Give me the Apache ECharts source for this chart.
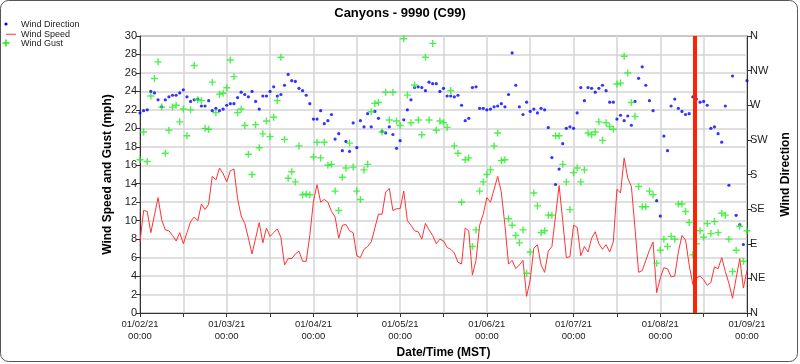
<!DOCTYPE html>
<html>
<head>
<meta charset="utf-8">
<script src="https://cdn.jsdelivr.net/npm/echarts@6/dist/echarts.min.js"></script>
<style>
html,body{margin:0;padding:0;background:#fff;}
#chart{width:800px;height:364px;}
</style>
</head>
<body>
<div id="chart"></div>
<script>
// Hourly observations starting 01/02/21 00:00 (hour index 0..168)
const xTickLabels = ['01/02/21\n00:00','01/03/21\n00:00','01/04/21\n00:00','01/05/21\n00:00','01/06/21\n00:00','01/07/21\n00:00','01/08/21\n00:00','01/09/21\n00:00'];
const dirLabels = ['N','NE','E','SE','S','SW','W','NW','N'];
const nowHour = 153.5;

const windSpeed = [
 7.7,11.1,11.0,8.7,10.6,12.5,10.1,9.0,8.9,8.4,7.8,8.7,7.5,8.7,9.9,10.4,10.0,11.8,11.2,11.8,14.8,14.4,15.7,15.1,14.2,15.4,15.6,12.4,
 10.5,9.7,8.1,6.4,8.1,9.8,7.6,9.2,8.3,8.7,9.1,8.2,5.2,5.9,5.9,6.4,6.7,5.6,5.6,8.4,12.1,13.9,12.0,12.3,12.0,11.0,10.4,8.1,
 9.5,9.6,8.9,8.7,6.2,6.0,6.9,7.2,7.7,9.2,10.7,10.7,13.1,13.5,11.1,11.3,11.3,13.2,10.0,9.5,8.9,8.8,8.0,9.7,9.0,8.4,7.5,8.0,
 7.8,7.1,6.9,6.5,5.5,5.3,9.2,8.9,4.1,5.7,9.5,10.7,12.5,12.0,13.4,14.8,13.1,9.5,5.3,5.7,4.8,5.2,5.7,1.8,3.6,7.0,7.4,5.2,
 4.4,6.7,7.2,10.5,13.8,10.0,6.0,6.1,9.5,9.3,6.2,7.2,6.6,8.1,8.8,7.5,6.9,7.4,6.6,7.7,13.4,13.0,16.8,14.6,13.7,9.2,4.4,4.6,
 5.7,6.8,7.7,2.2,3.8,4.9,4.8,3.9,4.0,6.6,8.4,7.9,5.2,3.1,3.8,4.0,3.6,3.0,3.3,5.0,4.8,6.0,4.5,3.2,1.6,3.8,5.9,2.7,4.6
];
const windGust = [
 16.6,19.6,16.4,23.5,25.4,27.2,22.3,17.3,19.8,22.3,22.5,20.7,22.1,19.2,22.0,26.8,23.1,23.0,20.0,19.9,25.0,21.7,23.7,23.8,24.4,27.4,25.6,21.7,
 22.1,20.3,17.2,15.0,20.4,17.9,19.4,20.8,19.1,21.2,23.0,27.7,18.8,14.6,15.3,14.2,18.1,12.8,12.9,12.8,16.9,18.5,16.8,18.5,16.0,16.1,13.2,11.1,
 14.7,15.7,18.4,15.8,13.2,12.3,15.5,16.1,21.8,22.7,22.8,19.6,23.9,20.9,23.9,20.8,20.3,29.7,23.6,20.6,24.7,20.9,19.3,27.7,20.9,29.2,19.8,20.8,
 20.6,20.1,24.1,18.1,17.3,12.0,16.6,16.8,7.2,9.0,13.2,14.2,15.0,15.5,18.1,19.5,16.5,16.6,10.2,9.5,8.4,7.6,9.0,4.3,6.6,13.0,11.6,8.7,
 8.9,10.6,10.6,19.2,19.2,16.1,14.2,11.2,15.2,15.7,14.2,15.5,19.5,19.3,19.6,20.7,18.7,20.6,20.2,19.9,24.8,24.9,27.8,26.0,22.8,21.3,13.7,11.5,
 11.5,13.2,12.8,5.4,6.8,8.0,7.2,8.3,8.0,11.8,11.8,11.0,9.8,6.3,7.5,8.9,8.2,9.7,8.6,9.9,8.7,10.8,10.6,8.0,4.5,6.8,9.4,5.6,8.9
];
// degrees
const windDir = [
 260,263,264,288,286,277,268,277,281,283,283,286,290,281,275,277,278,269,269,276,263,266,263,265,270,272,272,280,
 287,284,281,288,275,265,282,282,288,294,282,284,296,310,302,301,292,289,283,272,252,252,263,246,250,258,226,233,
 211,223,210,247,215,250,242,259,242,262,253,236,234,242,232,214,224,251,264,277,293,294,293,289,300,298,298,288,
 292,282,282,281,283,270,250,253,293,294,266,266,264,265,268,269,272,268,284,338,296,268,258,274,262,265,260,266,
 264,241,202,167,187,220,240,242,240,260,293,276,293,292,287,292,296,289,274,274,252,257,250,256,244,275,305,320,
 296,276,263,146,126,230,211,269,278,266,262,258,259,281,278,274,275,270,240,242,233,222,269,166,308,127,115,89,302
];

const toXY = arr => arr.map((v, i) => [i, v]);
const FONT = 'Liberation Sans, Arial, sans-serif';
const plus = 'path://M4,0H6V4H10V6H6V10H4V6H0V4H4Z';

const chart = echarts.init(document.getElementById('chart'), null, {renderer: 'canvas'});
chart.setOption({
  animation: false,
  backgroundColor: '#fff',
  textStyle: {fontFamily: FONT},
  title: {
    text: 'Canyons - 9990 (C99)', left: 'center', top: 2,
    textStyle: {fontFamily: FONT, fontSize: 13, fontWeight: 'bold', color: '#000'}
  },
  legend: {
    orient: 'vertical', left: 1, top: 15, itemGap: 0, itemWidth: 10, itemHeight: 9,
    textStyle: {fontFamily: FONT, fontSize: 9, color: '#222', lineHeight: 9.5},
    data: [
      {name: 'Wind Direction', icon: 'rect', itemStyle: {color: 'rgba(0,0,0,0)'}},
      {name: 'Wind Speed', icon: 'path://M0,4.5H10V5.5H0Z'},
      {name: 'Wind Gust', icon: 'rect', itemStyle: {color: 'rgba(0,0,0,0)'}}
    ]
  },
  grid: {left: 140, right: 53, top: 36, bottom: 51, show: true, borderColor: '#444', borderWidth: 1},
  xAxis: {
    type: 'value', min: 0, max: 168, interval: 12,
    name: 'Date/Time (MST)', nameLocation: 'middle', nameGap: 32,
    nameTextStyle: {fontFamily: FONT, fontSize: 12, fontWeight: 'bold', color: '#000'},
    axisLine: {lineStyle: {color: '#333'}},
    axisTick: {show: true, length: 4, lineStyle: {color: '#333'}},
    axisLabel: {
      fontFamily: FONT, fontSize: 9.5, color: '#222', lineHeight: 12, margin: 5,
      formatter: v => (v % 24 === 0 ? xTickLabels[v / 24] : '')
    },
    splitLine: {show: true, lineStyle: {color: '#d4d4d4', width: 1.5}}
  },
  yAxis: [{
    type: 'value', min: 0, max: 30, interval: 2,
    name: 'Wind Speed and Gust (mph)', nameLocation: 'middle', nameGap: 24, nameRotate: 90,
    nameTextStyle: {fontFamily: FONT, fontSize: 12, fontWeight: 'bold', color: '#000'},
    axisLine: {show: true, lineStyle: {color: '#333'}},
    axisTick: {show: true, length: 4, lineStyle: {color: '#333'}},
    axisLabel: {fontFamily: FONT, fontSize: 11, color: '#222', margin: 3},
    splitLine: {show: true, lineStyle: {color: '#d4d4d4', width: 1.5}}
  }, {
    type: 'value', min: 0, max: 360, interval: 45, position: 'right',
    name: 'Wind Direction', nameLocation: 'middle', nameGap: 32, nameRotate: 90,
    nameTextStyle: {fontFamily: FONT, fontSize: 12, fontWeight: 'bold', color: '#000'},
    axisLine: {show: true, lineStyle: {color: '#333'}},
    axisTick: {show: true, length: 5, lineStyle: {color: '#333'}},
    axisLabel: {fontFamily: FONT, fontSize: 11, color: '#222', margin: 3,
      formatter: v => dirLabels[Math.round(v / 45)]},
    splitLine: {show: false}
  }],
  series: [{
    name: 'Wind Direction', type: 'scatter', yAxisIndex: 1,
    symbol: 'circle', symbolSize: 3.2,
    itemStyle: {color: '#0000ff'},
    data: toXY(windDir), z: 3
  }, {
    name: 'Wind Speed', type: 'line', yAxisIndex: 0,
    symbol: 'none', showSymbol: false,
    lineStyle: {color: '#ff3333', width: 1},
    itemStyle: {color: '#ff3333'},
    data: toXY(windSpeed), z: 2,
    markLine: {
      silent: true, symbol: 'none', label: {show: false},
      lineStyle: {color: '#ff2200', width: 4, type: 'solid'},
      data: [{xAxis: nowHour}], z: 5
    }
  }, {
    name: 'Wind Gust', type: 'scatter', yAxisIndex: 0,
    symbol: plus, symbolSize: 7,
    itemStyle: {color: '#22ee22'},
    data: toXY(windGust), z: 3
  }],
  graphic: [
    {type: 'rect', silent: true, z: -1,
     shape: {x: 0.5, y: 0.5, width: 797, height: 361, r: 8},
     style: {fill: 'none', stroke: '#555', lineWidth: 1}},
    {type: 'circle', silent: true, z: 10,
     shape: {cx: 6, cy: 24, r: 1.6}, style: {fill: '#0000ff'}},
    {type: 'rect', silent: true, z: 10,
     shape: {x: 5.2, y: 39.5, width: 1.6, height: 7}, style: {fill: '#22ee22'}},
    {type: 'rect', silent: true, z: 10,
     shape: {x: 2.5, y: 42.2, width: 7, height: 1.6}, style: {fill: '#22ee22'}}
  ]
});
</script>
</body>
</html>
